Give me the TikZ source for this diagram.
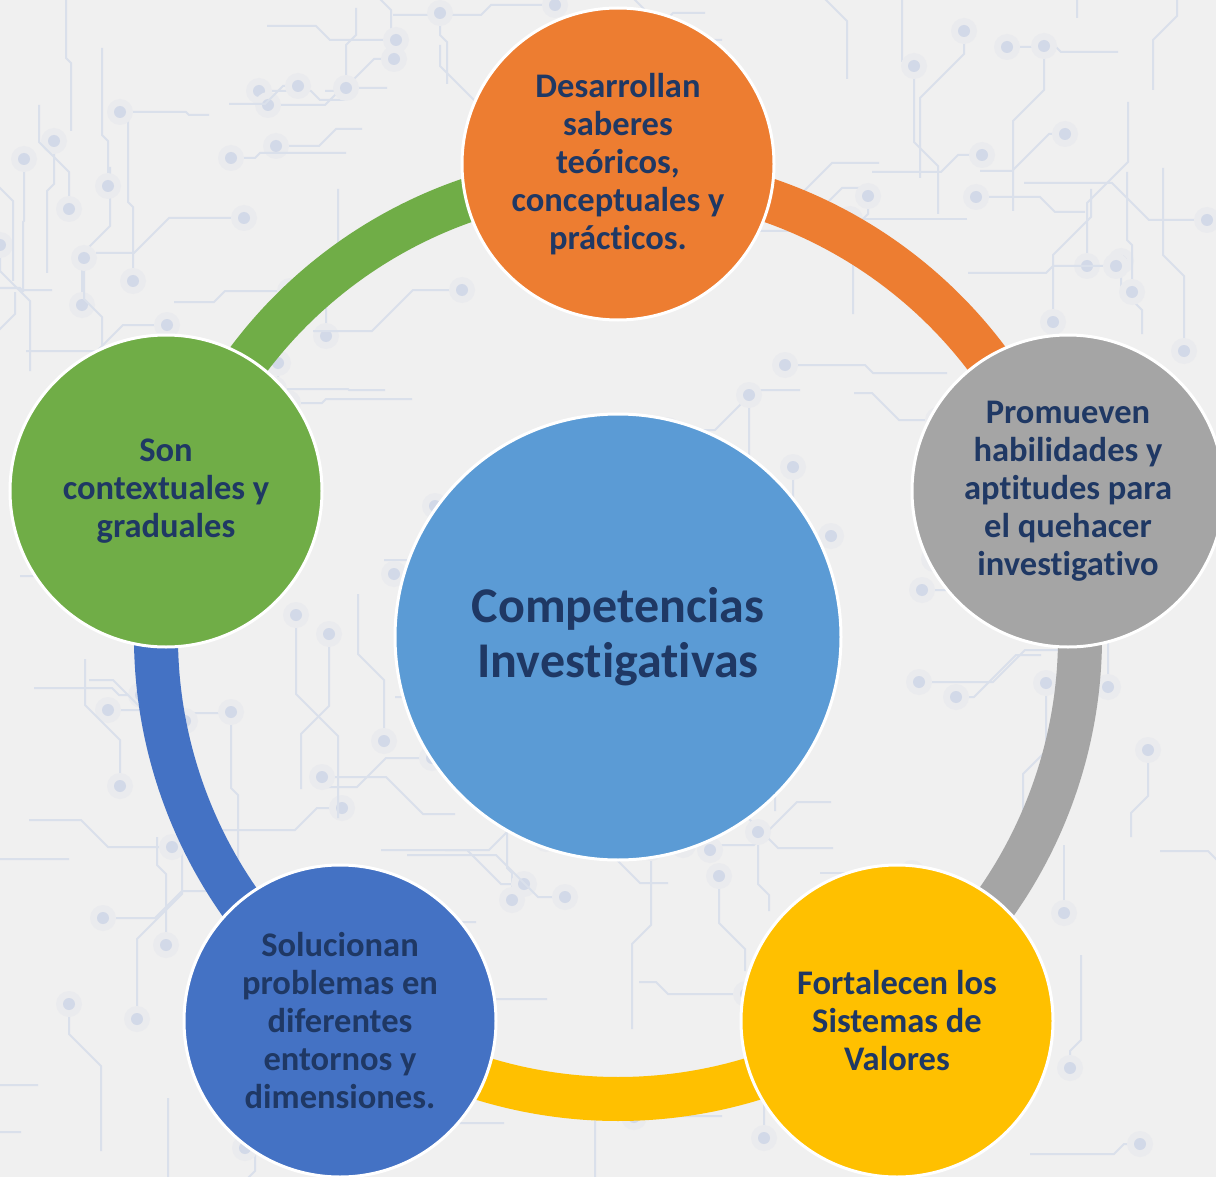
\documentclass[tikz,border=0pt]{standalone}
\usepackage{fontspec}
\setmainfont{Carlito}[Ligatures={NoCommon}]
\usetikzlibrary{calc}
\definecolor{bg}{RGB}{240,240,240}
\definecolor{tracec}{RGB}{218,224,235}
\definecolor{dotc}{RGB}{210,217,232}
\definecolor{glowc}{RGB}{234,235,238}
\definecolor{txt}{RGB}{31,56,100}
\definecolor{corange}{RGB}{237,125,49}
\definecolor{cgray}{RGB}{165,165,165}
\definecolor{cyellow}{RGB}{255,192,0}
\definecolor{cblue}{RGB}{68,114,196}
\definecolor{cgreen}{RGB}{112,173,71}
\definecolor{ccenter}{RGB}{91,155,213}
\begin{document}
\begin{tikzpicture}[x=1pt,y=1pt,
  bub/.style={circle, draw=white, line width=3pt, minimum size=312pt, inner sep=0pt,
    text=txt, align=center, font=\bfseries\fontsize{34.5}{38}\selectfont},
  hub/.style={circle, draw=white, line width=3pt, minimum size=446pt, inner sep=0pt,
    fill=ccenter, text=txt, align=center, font=\bfseries\fontsize{50}{55}\selectfont},
  band/.style={line width=44pt},
  trace/.style={draw=tracec, line width=2pt}]
\fill[bg] (0,0) rectangle (1216,-1177);
\useasboundingbox (0,0) rectangle (1216,-1177);
\begin{scope}
\clip (0,0) rectangle (1216,-1177);
\pgfmathsetseed{11}
\foreach \i in {1,...,150}{
  \pgfmathsetmacro\xa{random(0,1216)}
  \pgfmathsetmacro\ya{random(0,1177)}
  \pgfmathsetmacro\la{random(15,90)}
  \pgfmathsetmacro\lb{random(0,45)}
  \pgfmathsetmacro\lc{random(15,80)}
  \pgfmathsetmacro\rot{90*random(0,3)}
  \pgfmathsetmacro\sg{2*random(0,1)-1}
  \begin{scope}[shift={(\xa,-\ya)}, rotate=\rot]
    \draw[trace] (0,0) -- (0,\la) -- ++({\sg*\lb},\lb) -- ++(0,\lc) coordinate (tend);
    \fill[glowc] (tend) circle (13);
    \fill[dotc] (tend) circle (6);
  \end{scope}
}
\end{scope}
% centre of the ring and the points where the bands meet the circles
\coordinate (ctr) at (618,-637);
\coordinate (pa) at ($(ctr)+(90:462)$);
\coordinate (pb) at ($(ctr)+(18:462)$);
\coordinate (pc) at ($(ctr)+(-54:462)$);
\coordinate (pd) at ($(ctr)+(-126:462)$);
\coordinate (pe) at ($(ctr)+(162:462)$);
\draw[band, corange] (pa) arc[start angle=90, end angle=18, radius=462];
\draw[band, cgray] (pb) arc[start angle=18, end angle=-54, radius=462];
\draw[band, cyellow] (pc) arc[start angle=-54, end angle=-126, radius=462];
\draw[band, cblue] (pd) arc[start angle=-126, end angle=-198, radius=462];
\draw[band, cgreen] (pe) arc[start angle=162, end angle=90, radius=462];
% circles
\node[hub] (hub) at (618,-637) {Competencias\\Investigativas};
\node[bub, fill=corange] (n1) at (618,-164) {Desarrollan\\saberes\\teóricos,\\conceptuales y\\prácticos.};
\node[bub, fill=cgray] (n2) at (1068,-491) {Promueven\\habilidades y\\aptitudes para\\el quehacer\\investigativo};
\node[bub, fill=cyellow] (n3) at (897,-1021) {Fortalecen los\\Sistemas de\\Valores};
\node[bub, fill=cblue] (n4) at (340,-1021) {Solucionan\\problemas en\\diferentes\\entornos y\\dimensiones.};
\node[bub, fill=cgreen] (n5) at (166,-491) {Son\\contextuales y\\graduales};
\end{tikzpicture}
\end{document}
